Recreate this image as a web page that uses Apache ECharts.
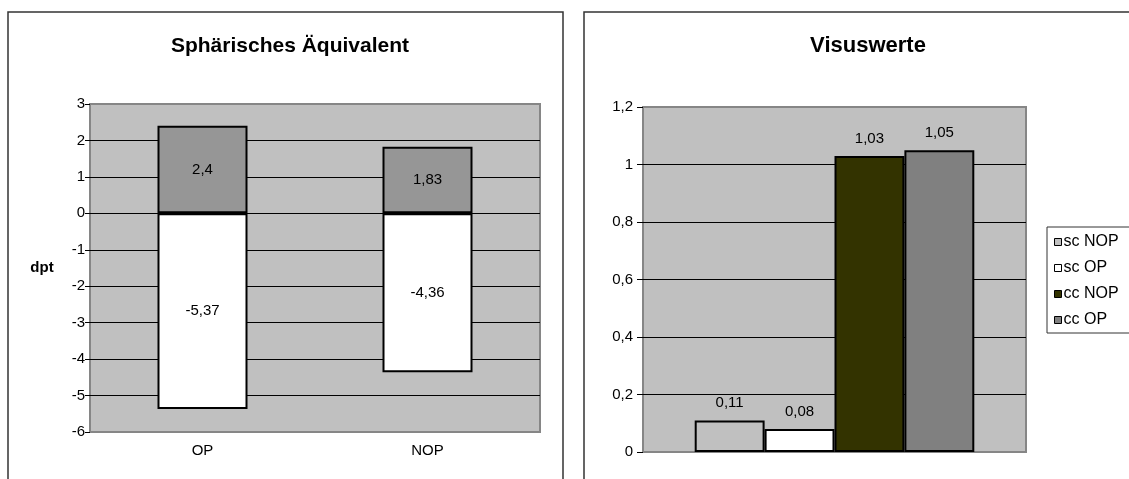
<!DOCTYPE html>
<html>
<head>
<meta charset="utf-8">
<script src="https://cdn.jsdelivr.net/npm/echarts@6/dist/echarts.min.js"></script>
<style>
html,body{margin:0;padding:0;background:#fff;}
#chart{width:1129px;height:479px;}
</style>
</head>
<body>
<div id="chart"></div>
<script>
// ---- Data ----
const leftTitle = 'Sphärisches Äquivalent';
const leftCategories = ['OP', 'NOP'];
const leftPositive = [2.4, 1.83];
const leftNegative = [-5.37, -4.36];
const leftAxisName = 'dpt';

const rightTitle = 'Visuswerte';
const rightSeriesNames = ['sc NOP', 'sc OP', 'cc NOP', 'cc OP'];
const rightValues = [0.11, 0.08, 1.03, 1.05];
const rightColors = ['#c0c0c0', '#ffffff', '#333300', '#808080'];

const FONT = '"Liberation Sans", Arial, sans-serif';
const fmt = v => String(v).replace('.', ',');

const chart = echarts.init(document.getElementById('chart'), null, {renderer: 'canvas'});

const rightSeries = rightSeriesNames.map((n, i) => ({
  name: n,
  type: 'bar',
  xAxisIndex: 1,
  yAxisIndex: 1,
  data: [rightValues[i]],
  barGap: '0%',
  barCategoryGap: '27%',
  itemStyle: {color: rightColors[i], borderColor: '#000', borderWidth: 2},
  label: {
    show: true, position: 'top', distance: 10,
    fontFamily: FONT, fontSize: 15, color: '#000',
    formatter: p => fmt(p.value)
  }
}));

const option = {
  animation: false,
  backgroundColor: '#ffffff',
  textStyle: {fontFamily: FONT},
  graphic: [
    {type: 'rect', shape: {x: 8, y: 12, width: 555, height: 480},
     style: {fill: 'none', stroke: '#333', lineWidth: 1.5}, z: 0, silent: true},
    {type: 'rect', shape: {x: 584, y: 12, width: 560, height: 480},
     style: {fill: 'none', stroke: '#333', lineWidth: 1.5}, z: 0, silent: true},
    {type: 'rect', shape: {x: 1047, y: 227, width: 100, height: 106},
     style: {fill: '#fff', stroke: '#333', lineWidth: 1}, z: 1, silent: true}
  ],
  title: [
    {text: leftTitle, left: 285, top: 31, textAlign: 'center',
     textStyle: {fontFamily: FONT, fontSize: 21, fontWeight: 'bold', color: '#000'}},
    {text: rightTitle, left: 863, top: 30, textAlign: 'center',
     textStyle: {fontFamily: FONT, fontSize: 22, fontWeight: 'bold', color: '#000'}}
  ],
  legend: {
    data: rightSeriesNames,
    orient: 'vertical',
    left: 1054, top: 234,
    itemWidth: 7, itemHeight: 7,
    itemGap: 10,
    icon: 'rect',
    padding: 0,
    itemStyle: {borderColor: '#000', borderWidth: 1},
    textStyle: {fontFamily: FONT, fontSize: 16, color: '#000', lineHeight: 15, padding: [0, 0, 0, -3]},
    z: 5
  },
  grid: [
    {left: 90, top: 104, width: 450, height: 328, show: true,
     backgroundColor: '#c0c0c0', borderColor: '#868686', borderWidth: 2},
    {left: 643, top: 107, width: 383, height: 345, show: true,
     backgroundColor: '#c0c0c0', borderColor: '#868686', borderWidth: 2}
  ],
  xAxis: [
    {type: 'category', gridIndex: 0, data: leftCategories,
     axisLine: {show: false, onZero: false}, axisTick: {show: false},
     axisLabel: {fontFamily: FONT, fontSize: 15, color: '#000', margin: 11}},
    {type: 'category', gridIndex: 1, data: [''],
     axisLine: {show: false}, axisTick: {show: false}, axisLabel: {show: false}}
  ],
  yAxis: [
    {type: 'value', gridIndex: 0, min: -6, max: 3, interval: 1,
     name: leftAxisName, nameLocation: 'middle', nameRotate: 0, nameGap: 48,
     nameTextStyle: {fontFamily: FONT, fontSize: 15, fontWeight: 'bold', color: '#000', align: 'center'},
     axisLine: {show: false},
     axisTick: {show: true, length: 5, lineStyle: {color: '#000'}},
     axisLabel: {fontFamily: FONT, fontSize: 15, color: '#000', margin: 5, formatter: v => fmt(v)},
     splitLine: {show: true, showMinLine: false, showMaxLine: false, lineStyle: {color: '#000', width: 1}}},
    {type: 'value', gridIndex: 1, min: 0, max: 1.2, interval: 0.2,
     axisLine: {show: false},
     axisTick: {show: true, length: 6, lineStyle: {color: '#000'}},
     axisLabel: {fontFamily: FONT, fontSize: 15, color: '#000', margin: 10, formatter: v => fmt(Math.round(v * 10) / 10)},
     splitLine: {show: true, showMinLine: false, showMaxLine: false, lineStyle: {color: '#000', width: 1}}}
  ],
  series: [
    {name: 'pos', type: 'bar', stack: 'se', xAxisIndex: 0, yAxisIndex: 0,
     data: leftPositive, barWidth: '40%',
     itemStyle: {color: '#969696', borderColor: '#000', borderWidth: 2},
     label: {show: true, position: 'inside', fontFamily: FONT, fontSize: 15, color: '#000',
             formatter: p => fmt(p.value)}},
    {name: 'neg', type: 'bar', stack: 'se', xAxisIndex: 0, yAxisIndex: 0,
     data: leftNegative, barWidth: '40%',
     itemStyle: {color: '#ffffff', borderColor: '#000', borderWidth: 2},
     label: {show: true, position: 'inside', fontFamily: FONT, fontSize: 15, color: '#000',
             formatter: p => fmt(p.value)}},
    ...rightSeries
  ]
};
chart.setOption(option);
</script>
</body>
</html>
